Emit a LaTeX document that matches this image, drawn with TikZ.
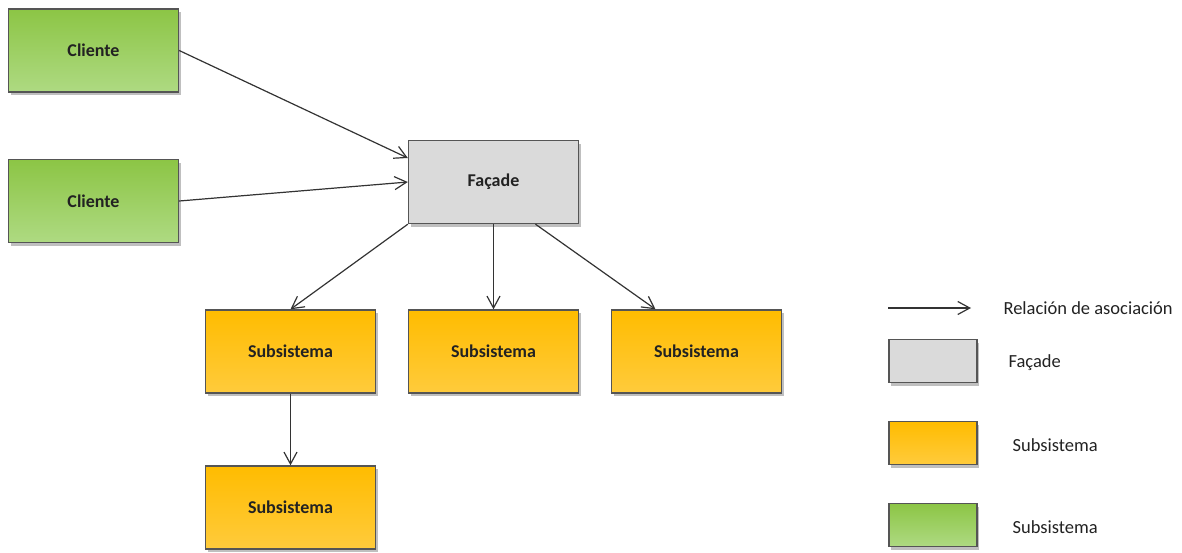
\documentclass[tikz,border=0pt]{standalone}
\usepackage{fontspec}
\setmainfont{Carlito}
\usetikzlibrary{arrows.meta,shadows}
\definecolor{boxline}{HTML}{555555}
\definecolor{arrowline}{HTML}{333333}
\definecolor{greentop}{HTML}{8CC545}
\definecolor{greenbot}{HTML}{AEDA82}
\definecolor{orangetop}{HTML}{FFBC00}
\definecolor{orangebot}{HTML}{FFCB3C}
\definecolor{greyfill}{HTML}{DADADA}
\definecolor{labeltext}{HTML}{222222}
\tikzset{
  block/.style={draw=boxline, line width=1.4pt, minimum width=170pt, minimum height=83pt,
    font=\fontsize{18}{21}\selectfont\bfseries, text=labeltext,
    drop shadow={shadow xshift=2pt, shadow yshift=-3pt, opacity=0.25, fill=black}},
  clientbox/.style={block, top color=greentop, bottom color=greenbot},
  facadebox/.style={block, fill=greyfill},
  subbox/.style={block, top color=orangetop, bottom color=orangebot},
  keybox/.style={block, minimum width=88pt, minimum height=43pt},
  keytext/.style={anchor=west, font=\fontsize{18.5}{21}\selectfont, text=labeltext},
  assoc/.style={draw=arrowline, line width=1.2pt, -{Straight Barb[length=12pt, width=13pt, line width=1.2pt]}}
}
\begin{document}
\begin{tikzpicture}[x=1pt, y=-1pt]
\useasboundingbox (0,0) rectangle (1182,552);

% clients, facade and subsystems
\node[clientbox] (c1) at (93.5,50.5) {Cliente};
\node[clientbox] (c2) at (93.5,201) {Cliente};
\node[facadebox] (f) at (493.5,182) {Façade};
\node[subbox] (s1) at (290.5,351.5) {Subsistema};
\node[subbox] (s2) at (493.5,351.5) {Subsistema};
\node[subbox] (s3) at (696.5,351.5) {Subsistema};
\node[subbox] (s4) at (290.5,507.5) {Subsistema};

% associations
\draw[assoc] (c1.east) -- ([yshift=24pt]f.west);
\draw[assoc] (c2.east) -- (f.west);
\draw[assoc] (f.south west) -- (s1.north);
\draw[assoc] (f.south) -- (s2.north);
\draw[assoc] ([xshift=42pt]f.south) -- ([xshift=-41pt]s3.north);
\draw[assoc] (s1.south) -- (s4.north);

% key
\coordinate (ka) at (888,308);
\coordinate (kb) at (971,308);
\draw[assoc] (ka) -- (kb);
\node[keytext] (kt1) at (1000,308) {Relación de asociación};
\node[keybox, fill=greyfill] (k1) at (933,361) {};
\node[keytext] (kt2) at (1005,363) {Façade};
\node[keybox, top color=orangetop, bottom color=orangebot] (k2) at (933,443) {};
\node[keytext] (kt3) at (1009,445) {Subsistema};
\node[keybox, top color=greentop, bottom color=greenbot] (k3) at (933,525) {};
\node[keytext] (kt4) at (1009,527) {Subsistema};
\end{tikzpicture}
\end{document}
